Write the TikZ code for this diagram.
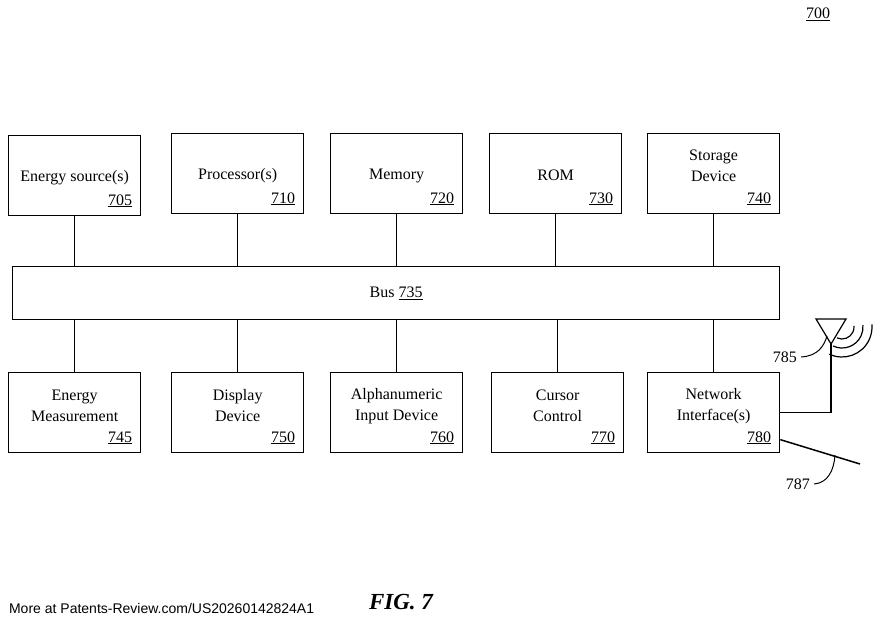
\documentclass[tikz,border=0pt]{standalone}
\usepackage{fontspec}
\setmainfont{Liberation Serif}
\setsansfont{Liberation Sans}
\begin{document}
\begin{tikzpicture}[x=1pt,y=-1pt,line width=1.5pt,
 box/.style={draw,line width=1.3pt,minimum width=132pt,minimum height=80pt,anchor=north west,inner sep=0pt},
 lbl/.style={font=\fontsize{16}{21}\selectfont,align=center},
 num/.style={font=\fontsize{16}{16}\selectfont,anchor=south east}]
\useasboundingbox (0,0) rectangle (880,626);
\foreach \n/\x/\y/\t/\m/\s in {a/8/135/Energy source(s)/705/-2, b/171/133/Processor(s)/710/-2, c/330/133/Memory/720/-2, d/489/133/ROM/730/-2, e/647/133/{Storage\\Device}/740/8,
 f/8/372/{Energy\\Measurement}/745/7, g/171/372/{Display\\Device}/750/7, h/330/372/{Alphanumeric\\Input Device}/760/7, i/491/372/{Cursor\\Control}/770/7, j/647/372/{Network\\Interface(s)}/780/7}{
 \node[box] (\n) at (\x,\y) {};
 \node[lbl,yshift=\s pt] (\n t) at (\n.center) {\t};
 \node[num] (\n n) at ([xshift=-5pt,yshift=5pt]\n.south east) {\underline{\m}};
}
\node[draw,line width=1.3pt,minimum width=767pt,minimum height=53pt,anchor=north west,inner sep=0pt] (bus) at (12,266) {};
\node[lbl] (bust) at (bus.center) {Bus \underline{735}};
\foreach \n in {a,b,c,d,e}{\draw (\n.south) -- (\n.south |- bus.north);}
\foreach \n in {f,g,h,i,j}{\draw (\n.north) -- (\n.north |- bus.south);}
% antenna
\coordinate (tip) at (831,344);
\draw (j.east) -| (tip);
\draw[line width=1.2pt] (tip) -- (816,319) -- (846,319) -- cycle;
\foreach \r in {12,21,30}{\draw[line width=1.2pt] ([shift={(115:\r)}]842,327) arc[start angle=115,end angle=-5,radius=\r];}
\node[lbl,anchor=east] (l785) at (801,357) {785};
\draw[line width=1pt] (l785.east) .. controls (818,356) and (824,346) .. (827,336);
\coordinate (w) at (860,464);
\draw ([yshift=-27pt]j.east) -- (w);
\node[lbl,anchor=east] (l787) at (814,484) {787};
\draw[line width=1pt] (l787.east) .. controls (828,483) and (834,470) .. (835,455);
\node[font=\fontsize{16}{16}\selectfont] (n700) at (818,14) {\underline{700}};
\node[font=\fontsize{23}{23}\selectfont\bfseries\itshape] (fig) at (401,602) {FIG. 7};
\node[font=\fontsize{14}{14}\sffamily,anchor=west] (more) at (5,608) {More at Patents-Review.com/US20260142824A1};
\end{tikzpicture}
\end{document}
